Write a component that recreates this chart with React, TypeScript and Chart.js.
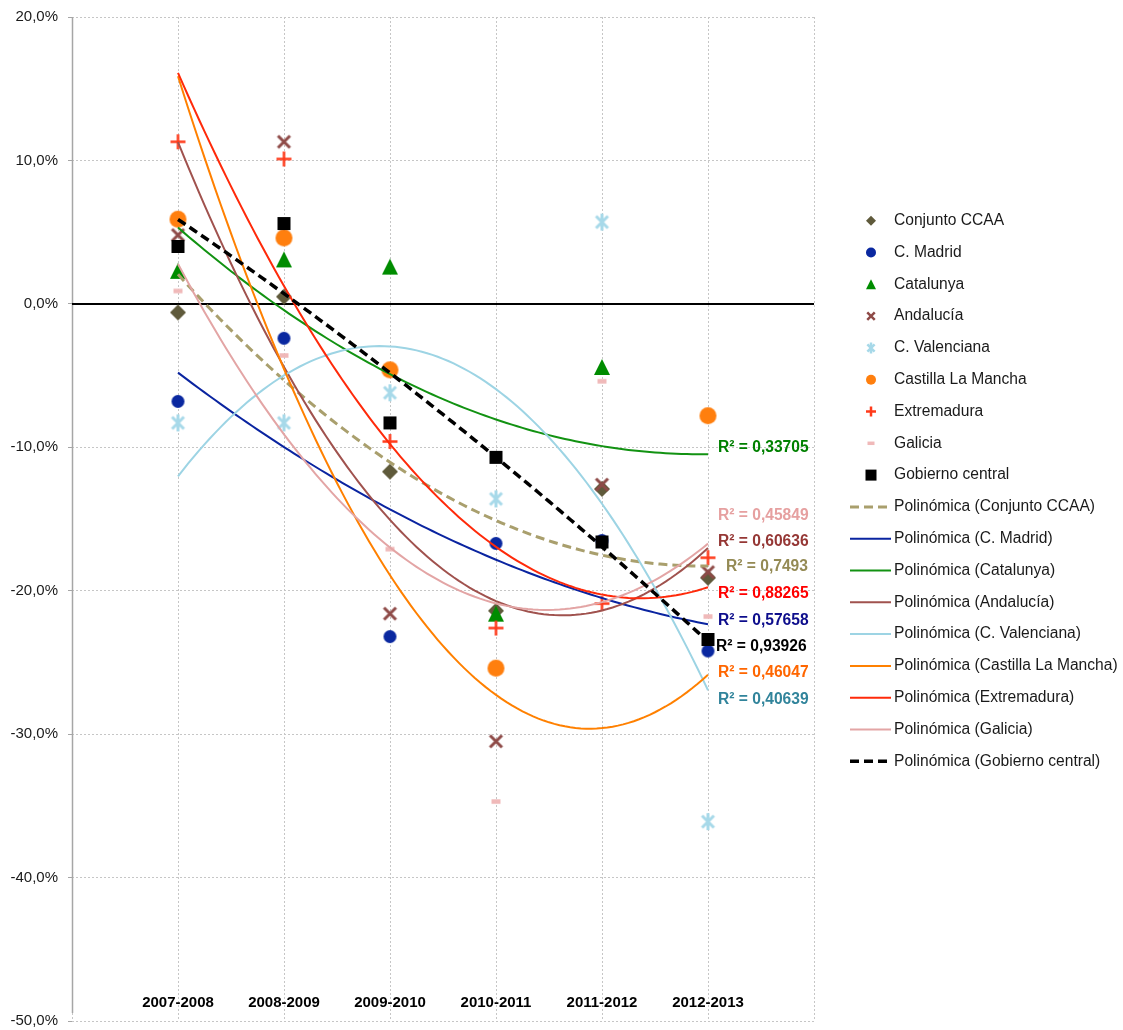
import React, { useEffect, useRef } from 'react';
import { Chart, registerables } from 'chart.js';

Chart.register(...registerables);

// ---------------- DATA ----------------
const categories = ['2007-2008', '2008-2009', '2009-2010', '2010-2011', '2011-2012', '2012-2013'];

const seriesNames = [
  'Conjunto CCAA',
  'C. Madrid',
  'Catalunya',
  'Andalucía',
  'C. Valenciana',
  'Castilla La Mancha',
  'Extremadura',
  'Galicia',
  'Gobierno central',
];

const conjuntoCCAA = [-0.6, 0.5, -11.7, -21.4, -12.9, -19.1];
const cMadrid = [-6.8, -2.4, -23.2, -16.7, -16.5, -24.2];
const catalunya: (number | null)[] = [2.3, 3.1, 2.6, -21.6, -4.4, null];
const andalucia = [4.8, 11.3, -21.6, -30.5, -12.6, -18.7];
const cValenciana = [-8.3, -8.3, -6.2, -13.6, 5.7, -36.1];
const castillaLaMancha = [5.9, 4.6, -4.6, -25.4, -63.0, -7.8];
const extremadura = [11.3, 10.1, -9.6, -22.6, -20.9, -17.7];
const galicia = [0.9, -3.6, -17.1, -34.7, -5.4, -21.8];
const gobiernoCentral = [4.0, 5.6, -8.3, -10.7, -16.6, -23.4];

const seriesValues: (number | null)[][] = [
  conjuntoCCAA,
  cMadrid,
  catalunya,
  andalucia,
  cValenciana,
  castillaLaMancha,
  extremadura,
  galicia,
  gobiernoCentral,
];

// R² annotation texts (as in the original) and the value on the y axis where each sits
const r2Texts = [
  'R² = 0,7493',
  'R² = 0,57658',
  'R² = 0,33705',
  'R² = 0,60636',
  'R² = 0,40639',
  'R² = 0,46047',
  'R² = 0,88265',
  'R² = 0,45849',
  'R² = 0,93926',
];
const r2AnchorValues = [-18.3, -22.1, -10.0, -16.6, -27.6, -25.7, -20.2, -14.8, -23.9];

const yTickMin = -50;
const yTickMax = 20;
const yTickStep = 10;

// ---------------- STYLES ----------------
type Style = {
  marker: string;
  size: number;
  lw: number;
  legendSize: number;
  color: string;
  trendColor: string;
  trendWidth: number;
  dash: number[];
  r2Color: string;
  r2Offset: number;
};

const styles: Style[] = [
  { marker: 'diamond', size: 16, lw: 0, legendSize: 10, color: '#5f5a3b', trendColor: '#a99f6d', trendWidth: 3, dash: [9, 5], r2Color: '#948a54', r2Offset: 18 },
  { marker: 'circle', size: 13, lw: 0, legendSize: 10, color: '#0a28a0', trendColor: '#0a24a0', trendWidth: 2, dash: [], r2Color: '#0d0d8c', r2Offset: 10 },
  { marker: 'triangle', size: 16, lw: 0, legendSize: 10, color: '#008c00', trendColor: '#129212', trendWidth: 2, dash: [], r2Color: '#008000', r2Offset: 10 },
  { marker: 'x', size: 15, lw: 3, legendSize: 10, color: '#8e4a47', trendColor: '#a0524e', trendWidth: 2, dash: [], r2Color: '#953735', r2Offset: 10 },
  { marker: 'asterisk', size: 17, lw: 3, legendSize: 11, color: '#a7d9e9', trendColor: '#9dd4e4', trendWidth: 2, dash: [], r2Color: '#31849b', r2Offset: 10 },
  { marker: 'circle', size: 17, lw: 0, legendSize: 10, color: '#ff7f0e', trendColor: '#ff8000', trendWidth: 2, dash: [], r2Color: '#ff6600', r2Offset: 10 },
  { marker: 'plus', size: 15, lw: 2.5, legendSize: 10, color: '#ff3a1a', trendColor: '#ff2a0a', trendWidth: 2, dash: [], r2Color: '#ff0000', r2Offset: 10 },
  { marker: 'dash', size: 9, lw: 0, legendSize: 7, color: '#f0b9b9', trendColor: '#e3a5a5', trendWidth: 2, dash: [], r2Color: '#e6a0a0', r2Offset: 10 },
  { marker: 'square', size: 13, lw: 0, legendSize: 11, color: '#000000', trendColor: '#000000', trendWidth: 3.5, dash: [9, 5], r2Color: '#000000', r2Offset: 8 },
];

const FONT = '"Liberation Sans", Arial, Helvetica, sans-serif';

// ---------------- HELPERS ----------------
function drawMarker(ctx: CanvasRenderingContext2D, kind: string, cx: number, cy: number, s: number, color: string, lw: number) {
  const h = s / 2;
  ctx.save();
  ctx.fillStyle = color;
  ctx.strokeStyle = color;
  ctx.lineWidth = lw || 2;
  ctx.lineCap = 'butt';
  ctx.beginPath();
  switch (kind) {
    case 'diamond':
      ctx.moveTo(cx, cy - h);
      ctx.lineTo(cx + h, cy);
      ctx.lineTo(cx, cy + h);
      ctx.lineTo(cx - h, cy);
      ctx.closePath();
      ctx.fill();
      break;
    case 'circle':
      ctx.arc(cx, cy, h, 0, Math.PI * 2);
      ctx.fill();
      break;
    case 'triangle':
      ctx.moveTo(cx, cy - h);
      ctx.lineTo(cx + h, cy + h);
      ctx.lineTo(cx - h, cy + h);
      ctx.closePath();
      ctx.fill();
      break;
    case 'x': {
      const a = h - ctx.lineWidth / 2;
      ctx.moveTo(cx - a, cy - a);
      ctx.lineTo(cx + a, cy + a);
      ctx.moveTo(cx + a, cy - a);
      ctx.lineTo(cx - a, cy + a);
      ctx.stroke();
      break;
    }
    case 'asterisk': {
      const a = (h - ctx.lineWidth / 2) * 0.85;
      ctx.moveTo(cx - a, cy - a);
      ctx.lineTo(cx + a, cy + a);
      ctx.moveTo(cx + a, cy - a);
      ctx.lineTo(cx - a, cy + a);
      ctx.moveTo(cx, cy - h);
      ctx.lineTo(cx, cy + h);
      ctx.stroke();
      break;
    }
    case 'plus':
      ctx.moveTo(cx - h, cy);
      ctx.lineTo(cx + h, cy);
      ctx.moveTo(cx, cy - h);
      ctx.lineTo(cx, cy + h);
      ctx.stroke();
      break;
    case 'dash':
      ctx.fillRect(cx - h, cy - s * 0.25, s, s * 0.5);
      break;
    case 'square':
      ctx.fillRect(cx - h, cy - h, s, s);
      break;
  }
  ctx.restore();
}

function makeMarkerCanvas(st: Style): HTMLCanvasElement {
  const dim = Math.ceil(st.size + 4);
  const c = document.createElement('canvas');
  c.width = dim;
  c.height = dim;
  const ctx = c.getContext('2d')!;
  drawMarker(ctx, st.marker, dim / 2, dim / 2, st.size, st.color, st.lw);
  return c;
}

// least-squares polynomial trend (order 2), as a spreadsheet "Polinómica" trendline
function polyFit2(values: (number | null)[]): number[] {
  const A = [
    [0, 0, 0],
    [0, 0, 0],
    [0, 0, 0],
  ];
  const B = [0, 0, 0];
  values.forEach((v, i) => {
    if (v === null) return;
    const x = i + 1;
    const p = [1, x, x * x];
    for (let r = 0; r < 3; r++) {
      B[r] += p[r] * v;
      for (let c = 0; c < 3; c++) A[r][c] += p[r] * p[c];
    }
  });
  for (let k = 0; k < 3; k++) {
    let piv = k;
    for (let r = k + 1; r < 3; r++) if (Math.abs(A[r][k]) > Math.abs(A[piv][k])) piv = r;
    [A[k], A[piv]] = [A[piv], A[k]];
    [B[k], B[piv]] = [B[piv], B[k]];
    for (let r = k + 1; r < 3; r++) {
      const f = A[r][k] / A[k][k];
      for (let c = k; c < 3; c++) A[r][c] -= f * A[k][c];
      B[r] -= f * B[k];
    }
  }
  const coef = [0, 0, 0];
  for (let k = 2; k >= 0; k--) {
    let s = B[k];
    for (let c = k + 1; c < 3; c++) s -= A[k][c] * coef[c];
    coef[k] = s / A[k][k];
  }
  return coef;
}

function trendPoints(values: (number | null)[]) {
  const [a, b, c] = polyFit2(values);
  const pts: { x: number; y: number }[] = [];
  const n = categories.length;
  for (let k = 0; k <= (n - 1) * 20; k++) {
    const x = 1 + k / 20;
    pts.push({ x, y: a + b * x + c * x * x });
  }
  return pts;
}

// ---------------- PLUGIN ----------------
const decorPlugin = {
  id: 'decor',
  beforeDatasetsDraw(chart: any) {
    const { ctx, chartArea, scales } = chart;
    const x = scales.x;
    const y = scales.y;
    ctx.save();
    // value axis line
    ctx.strokeStyle = '#a6a6a6';
    ctx.lineWidth = 1.5;
    ctx.beginPath();
    ctx.moveTo(chartArea.left + 0.5, chartArea.top);
    ctx.lineTo(chartArea.left + 0.5, chartArea.bottom - 8);
    ctx.stroke();
    // zero line
    const y0 = Math.round(y.getPixelForValue(0));
    ctx.strokeStyle = '#000';
    ctx.lineWidth = 2;
    ctx.beginPath();
    ctx.moveTo(chartArea.left, y0);
    ctx.lineTo(chartArea.right, y0);
    ctx.stroke();
    // category labels
    ctx.font = 'bold 15px ' + FONT;
    ctx.fillStyle = '#000';
    ctx.textAlign = 'center';
    ctx.textBaseline = 'middle';
    categories.forEach((c, i) => {
      ctx.fillText(c, x.getPixelForValue(i + 1), chartArea.bottom - 18);
    });
    ctx.restore();
  },
  afterDatasetsDraw(chart: any) {
    const { ctx, scales } = chart;
    const x = scales.x;
    const y = scales.y;
    ctx.save();
    ctx.font = 'bold 15.6px ' + FONT;
    ctx.textAlign = 'left';
    ctx.textBaseline = 'middle';
    const xEnd = x.getPixelForValue(categories.length);
    r2Texts.forEach((t, i) => {
      ctx.fillStyle = styles[i].r2Color;
      ctx.fillText(t, xEnd + styles[i].r2Offset, y.getPixelForValue(r2AnchorValues[i]));
    });
    ctx.restore();
  },
  afterDraw(chart: any) {
    const { ctx, chartArea } = chart;
    ctx.save();
    ctx.font = '15.6px ' + FONT;
    ctx.textAlign = 'left';
    ctx.textBaseline = 'middle';
    ctx.fillStyle = '#1a1a1a';
    const top = 220.7;
    const step = 31.8;
    const markerX = chartArea.right + 57;
    const textX = chartArea.right + 80;
    seriesNames.forEach((name, i) => {
      const yy = top + step * i;
      const st = styles[i];
      drawMarker(ctx, st.marker, markerX, yy, st.legendSize, st.color, st.lw ? Math.min(st.lw, 2.5) : 0);
      ctx.fillStyle = '#1a1a1a';
      ctx.fillText(name, textX, yy);
    });
    seriesNames.forEach((name, i) => {
      const yy = top + step * (i + seriesNames.length);
      const st = styles[i];
      ctx.save();
      ctx.strokeStyle = st.trendColor;
      ctx.lineWidth = st.trendWidth;
      ctx.setLineDash(st.dash);
      ctx.beginPath();
      ctx.moveTo(chartArea.right + 36, yy);
      ctx.lineTo(chartArea.right + 77, yy);
      ctx.stroke();
      ctx.restore();
      ctx.fillStyle = '#1a1a1a';
      ctx.fillText('Polinómica (' + name + ')', textX, yy);
    });
    ctx.restore();
  },
};

// ---------------- COMPONENT ----------------
export default function App() {
  const canvasRef = useRef<HTMLCanvasElement | null>(null);

  useEffect(() => {
    if (!canvasRef.current) return;
    const markerCanvases = styles.map((s) => makeMarkerCanvas(s));

    const scatterSets = seriesValues.map((vals, i) => ({
      type: 'scatter' as const,
      label: seriesNames[i],
      data: vals
        .map((v, k) => (v === null ? null : { x: k + 1, y: v }))
        .filter((p) => p !== null),
      pointStyle: markerCanvases[i],
      pointRadius: 5,
      showLine: false,
      order: -i,
    }));

    const trendSets = seriesValues.map((vals, i) => ({
      type: 'scatter' as const,
      label: 'Polinómica (' + seriesNames[i] + ')',
      data: trendPoints(vals),
      showLine: true,
      pointRadius: 0,
      borderColor: styles[i].trendColor,
      borderWidth: styles[i].trendWidth,
      borderDash: styles[i].dash,
      tension: 0,
      fill: false,
      order: -(i + seriesValues.length),
    }));

    const chart = new Chart(canvasRef.current, {
      type: 'scatter',
      data: { datasets: [...scatterSets, ...trendSets] as any },
      options: {
        responsive: false,
        animation: false,
        events: [],
        layout: { padding: { left: 0, right: 309, top: 17, bottom: 9 } },
        plugins: { legend: { display: false }, tooltip: { enabled: false } },
        scales: {
          x: {
            type: 'linear',
            min: 0,
            max: categories.length + 1,
            ticks: { display: false, stepSize: 1 },
            grid: { color: '#c6c6c6', lineWidth: 1, drawTicks: false },
            border: { display: false, dash: [2, 2] },
            afterFit: (s: any) => {
              s.height = 0;
              s.paddingLeft = 0;
              s.paddingRight = 0;
            },
          },
          y: {
            type: 'linear',
            min: yTickMin,
            max: yTickMax,
            ticks: {
              stepSize: yTickStep,
              padding: 10,
              color: '#1a1a1a',
              font: { family: FONT, size: 15 },
              callback: (v: any) => Number(v).toFixed(1).replace('.', ',') + '%',
            },
            grid: { color: '#c6c6c6', lineWidth: 1, tickLength: 4, tickColor: '#a6a6a6', tickBorderDash: [] },
            border: { display: false, dash: [2, 2] },
            afterFit: (s: any) => {
              s.width = 72;
              s.paddingTop = 0;
              s.paddingBottom = 0;
            },
          },
        },
      },
      plugins: [decorPlugin],
    });
    return () => chart.destroy();
  }, []);

  return (
    <div style={{ position: 'absolute', left: 0, top: 0, width: 1123, height: 1030, background: '#fff' }}>
      <canvas ref={canvasRef} width={1123} height={1030} style={{ display: 'block' }} />
    </div>
  );
}
